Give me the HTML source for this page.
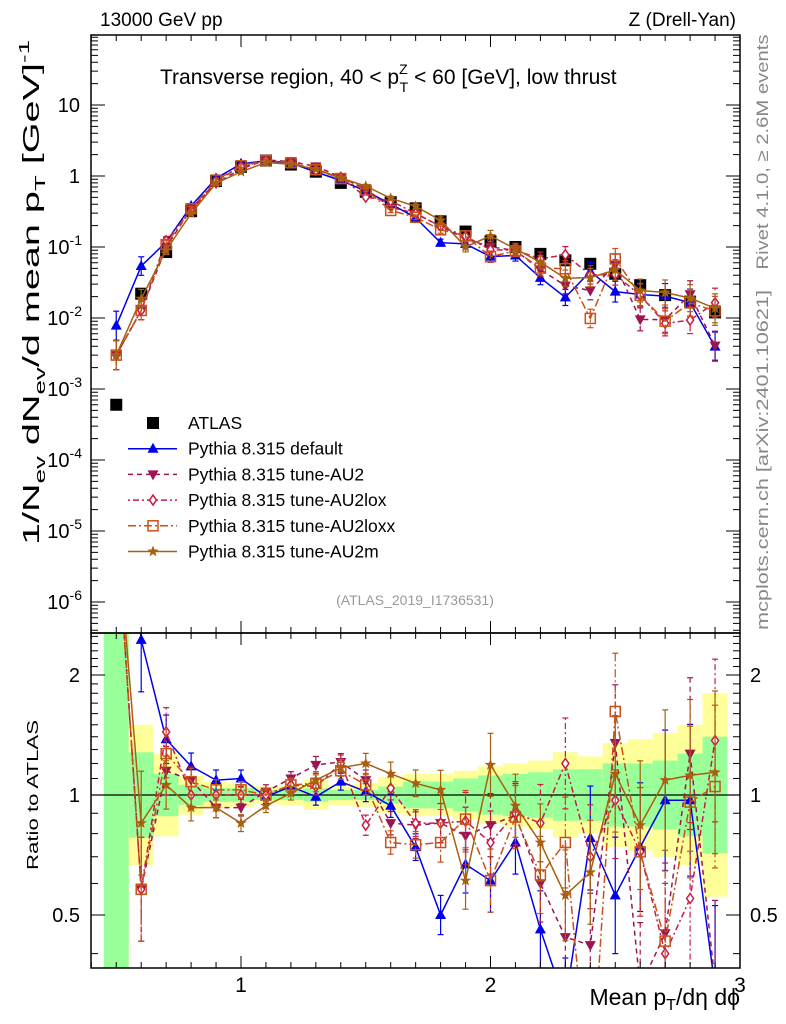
<!DOCTYPE html>
<html><head><meta charset="utf-8"><style>
html,body{margin:0;padding:0;background:#fff;width:786px;height:1024px;overflow:hidden}
svg{display:block;font-family:"Liberation Sans",sans-serif}
</style></head><body>
<svg id="c" width="786" height="1024" viewBox="0 0 786 1024" xmlns="http://www.w3.org/2000/svg">
<defs>
<clipPath id="cm"><rect x="91" y="35" width="649" height="598"/></clipPath>
<clipPath id="cr"><rect x="91" y="633" width="649" height="335"/></clipPath>
</defs>
<g id="bands" clip-path="url(#cr)"></g>
<g id="mainMarks" clip-path="url(#cm)"></g>
<g id="ratioMarks" clip-path="url(#cr)"></g>
<g id="axes"></g>
<text x="100" y="26" font-size="19">13000 GeV pp</text>
<text x="736" y="26" font-size="19" text-anchor="end">Z (Drell-Yan)</text>
<text x="160" y="84" font-size="21">Transverse region, 40 &lt; p<tspan font-size="14" dy="-10">Z</tspan><tspan font-size="14" dx="-8" dy="18">T</tspan><tspan dy="-8"> &lt; 60 [GeV], low thrust</tspan></text>
<text x="415" y="605" font-size="14" fill="#999" text-anchor="middle">(ATLAS_2019_I1736531)</text>
<text transform="translate(768,152) rotate(-90)" font-size="17" fill="#888" text-anchor="middle" textLength="235" lengthAdjust="spacingAndGlyphs">Rivet 4.1.0, ≥ 2.6M events</text>
<text transform="translate(768,460) rotate(-90)" font-size="17" fill="#888" text-anchor="middle" textLength="340" lengthAdjust="spacingAndGlyphs">mcplots.cern.ch [arXiv:2401.10621]</text>
<text transform="translate(39,545) rotate(-90)" font-size="23" textLength="505" lengthAdjust="spacingAndGlyphs">1/N<tspan font-size="15" dy="6">ev</tspan><tspan dy="-6"> dN</tspan><tspan font-size="15" dy="6">ev</tspan><tspan dy="-6">/d mean p</tspan><tspan font-size="15" dy="6">T</tspan><tspan dy="-6"> [GeV]</tspan><tspan font-size="15" dy="-10">-1</tspan></text>
<text transform="translate(38,870) rotate(-90)" font-size="16" textLength="150" lengthAdjust="spacingAndGlyphs">Ratio to ATLAS</text>
<text x="740" y="1005" font-size="23" text-anchor="end">Mean p<tspan font-size="16" dy="5">T</tspan><tspan dy="-5">/dη dϕ</tspan></text>
<g id="legend"></g>
</svg>
<script>
const xs=[0.5,0.6,0.7,0.8,0.9,1.0,1.1,1.2,1.3,1.4,1.5,1.6,1.7,1.8,1.9,2.0,2.1,2.2,2.3,2.4,2.5,2.6,2.7,2.8,2.9];
const atlas=[6e-4,0.022,0.085,0.32,0.85,1.35,1.65,1.45,1.15,0.8,0.6,0.43,0.35,0.23,0.165,0.12,0.1,0.08,0.065,0.058,0.042,0.029,0.021,0.017,0.012];
const rDefault=[13,2.45,1.38,1.18,1.09,1.10,0.99,1.05,0.99,1.08,1.02,0.94,0.74,0.50,0.67,0.61,0.76,0.46,0.30,0.78,0.56,0.74,0.97,0.97,0.33];
const rAU2=[5,0.58,1.15,1.09,0.93,0.93,1.02,1.10,1.19,1.21,1.09,0.85,0.84,0.85,0.79,0.84,0.89,0.60,0.44,0.42,1.35,0.33,0.45,1.27,0.34];
const rAU2lox=[5,0.58,1.44,1.0,1.0,1.0,1.0,1.06,1.05,1.2,0.84,1.04,0.85,0.85,0.86,0.76,0.90,0.85,1.2,0.70,0.97,0.72,0.40,0.55,1.37];
const rAU2loxx=[5,0.58,1.27,1.08,1.03,1.03,1.0,1.06,1.07,1.15,1.06,0.76,0.75,0.76,0.87,0.61,0.88,0.63,0.76,0.17,1.62,0.72,0.43,0.96,1.05];
const rAU2m=[5,0.85,1.06,0.93,0.93,0.85,0.94,1.01,1.09,1.17,1.20,1.13,1.07,1.03,0.61,1.19,0.94,0.76,0.56,0.64,1.13,0.84,1.09,1.12,1.14];
const mcErr=[0.6,0.35,0.15,0.08,0.06,0.05,0.04,0.04,0.05,0.05,0.06,0.07,0.08,0.12,0.18,0.2,0.2,0.25,0.3,0.35,0.4,0.45,0.5,0.55,0.6];
const bandTotal=[3,0.5,0.27,0.12,0.08,0.07,0.05,0.06,0.09,0.06,0.07,0.11,0.13,0.13,0.15,0.18,0.2,0.22,0.28,0.25,0.35,0.38,0.43,0.5,0.8];
const bandStat=[3,0.28,0.13,0.06,0.04,0.04,0.03,0.03,0.04,0.03,0.03,0.05,0.08,0.08,0.1,0.12,0.13,0.14,0.16,0.16,0.2,0.2,0.22,0.27,0.4];
const mainTicks=[10,1,0.1,0.01,1e-3,1e-4,1e-5,1e-6];
const mainTickLabels=["10","1","10^-1","10^-2","10^-3","10^-4","10^-5","10^-6"];
const ratioTicks=[2,1,0.5];
const xTicks=[1,2,3];

const NS="http://www.w3.org/2000/svg";
const L=91,R=740,T=35,MB=633,RB=968;
const X=v=>241+(v-1)*249.5;
const Y=v=>176-71*Math.log10(v);
const YR=v=>795-120*Math.log2(v);
function mk(tag,attrs,parent){const e=document.createElementNS(NS,tag);for(const k in attrs)e.setAttribute(k,attrs[k]);parent.appendChild(e);return e;}

const series=[
 {name:'default',r:rDefault,col:'#0000ee',dash:'',m:'tri'},
 {name:'au2',r:rAU2,col:'#9b1550',dash:'5,4',m:'tridown'},
 {name:'au2lox',r:rAU2lox,col:'#c81a46',dash:'2,3,6,3',m:'diamond'},
 {name:'au2loxx',r:rAU2loxx,col:'#c8501a',dash:'8,3,2,3',m:'square'},
 {name:'au2m',r:rAU2m,col:'#a8600f',dash:'',m:'star'}
];
function marker(g,type,x,y,col){
 let e;
 if(type==='tri')e=mk('polygon',{points:`${x},${y-6} ${x-5.5},${y+4} ${x+5.5},${y+4}`,fill:col},g);
 else if(type==='tridown')e=mk('polygon',{points:`${x},${y+6} ${x-5.5},${y-4} ${x+5.5},${y-4}`,fill:col},g);
 else if(type==='diamond')e=mk('polygon',{points:`${x},${y-5} ${x-3.5},${y} ${x},${y+5} ${x+3.5},${y}`,fill:'#fff',stroke:col,'stroke-width':1.5},g);
 else if(type==='square')e=mk('rect',{x:x-5,y:y-5,width:10,height:10,fill:'none',stroke:col,'stroke-width':1.5},g);
 else if(type==='star'){let p=[];for(let i=0;i<10;i++){const a=-Math.PI/2+i*Math.PI/5,rr=i%2?2.5:6;p.push((x+rr*Math.cos(a)).toFixed(1)+','+(y+rr*Math.sin(a)).toFixed(1));}e=mk('polygon',{points:p.join(' '),fill:col},g);}
 else if(type==='box')e=mk('rect',{x:x-6,y:y-6,width:12,height:12,fill:'#000'},g);
 return e;
}

const bg=document.getElementById('bands');
xs.forEach((x,i)=>{
 const x0=X(x-0.05),w=X(x+0.05)-x0;
 const t=bandTotal[i],s=bandStat[i];
 const ry=mk('rect',{x:x0,y:YR(1+t),width:w,height:YR(1/(1+t))-YR(1+t),fill:'#ffff99'},bg);
 
 
 const rg=mk('rect',{x:x0,y:YR(1+s),width:w,height:YR(1/(1+s))-YR(1+s),fill:'#99ff99'},bg);
 
 
});
const ax=document.getElementById('axes');
mk('line',{x1:L,x2:R,y1:YR(1),y2:YR(1),stroke:'#000','stroke-width':1.3},document.getElementById('ratioMarks'));

const mg=document.getElementById('mainMarks'),rgp=document.getElementById('ratioMarks');
series.forEach(s=>{
 const gm=mk('g',{},mg);
 
 
 const gr=mk('g',{},rgp);
 
 
 const vals=xs.map((x,i)=>atlas[i]*s.r[i]);
 const pm=xs.map((x,i)=>X(x).toFixed(1)+','+Y(vals[i]).toFixed(1)).join(' ');
 const pr=xs.map((x,i)=>X(x).toFixed(1)+','+YR(s.r[i]).toFixed(1)).join(' ');
 mk('polyline',{points:pm,fill:'none',stroke:s.col,'stroke-width':1.5,'stroke-dasharray':s.dash},gm);
 mk('polyline',{points:pr,fill:'none',stroke:s.col,'stroke-width':1.5,'stroke-dasharray':s.dash},gr);
 xs.forEach((x,i)=>{
  const e=mcErr[i];
  const px=X(x);
  mk('line',{x1:px,x2:px,y1:Y(vals[i]*(1+e)),y2:Y(vals[i]/(1+e)),stroke:s.col,'stroke-width':1.2,'stroke-dasharray':s.dash},gm);
  mk('line',{x1:px,x2:px,y1:YR(s.r[i]*(1+e)),y2:YR(s.r[i]/(1+e)),stroke:s.col,'stroke-width':1.2,'stroke-dasharray':s.dash},gr);
  [[Y(vals[i]*(1+e)),gm],[Y(vals[i]/(1+e)),gm],[YR(s.r[i]*(1+e)),gr],[YR(s.r[i]/(1+e)),gr]].forEach(([yy,g])=>mk('line',{x1:px-3,x2:px+3,y1:yy,y2:yy,stroke:s.col,'stroke-width':1.2},g));
  const m1=marker(gm,s.m,px,Y(vals[i]),s.col);
  
  
  const m2=marker(gr,s.m,px,YR(s.r[i]),s.col);
  
  
 });
});
const ga=document.createElementNS(NS,'g');mg.insertBefore(ga,mg.firstChild);


xs.forEach((x,i)=>{const m=marker(ga,'box',X(x),Y(atlas[i]),'#000');
 
 });

mk('rect',{x:L,y:T,width:R-L,height:MB-T,fill:'none',stroke:'#000','stroke-width':1.5},ax);
mk('rect',{x:L,y:MB,width:R-L,height:RB-MB,fill:'none',stroke:'#000','stroke-width':1.5},ax);
for(let k=4;k<=30;k++){const v=k/10,px=X(v),maj=(k%10===0);const len=maj?12:6;
 [[T,1],[MB,-1],[MB,1],[RB,-1]].forEach(([y0,d])=>mk('line',{x1:px,x2:px,y1:y0,y2:y0+d*len,stroke:'#000','stroke-width':1},ax));}
xTicks.forEach(v=>{const t=mk('text',{x:X(v),y:992,'font-size':21,'text-anchor':'middle'},ax);t.textContent=v;
 
 });
for(let d=-7;d<=1;d++){for(let m=1;m<10;m++){const v=m*Math.pow(10,d),py=Y(v);if(py<T||py>MB)continue;const len=m===1?14:7;
 mk('line',{x1:L,x2:L+len,y1:py,y2:py,stroke:'#000','stroke-width':1},ax);mk('line',{x1:R,x2:R-len,y1:py,y2:py,stroke:'#000','stroke-width':1},ax);}}
mainTicks.forEach((v,i)=>{const lab=mainTickLabels[i];const t=mk('text',{x:80,y:Y(v)+7,'font-size':20,'text-anchor':'end'},ax);
 if(lab.includes('^')){const [b,e]=lab.split('^');t.textContent=b;const ts=mk('tspan',{'font-size':14,dy:-9},t);ts.textContent=e;t.setAttribute('x',82);}else t.textContent=lab;
 
 });
for(let v=0.4;v<=2.5001;v+=0.1){const py=YR(v);if(py<MB||py>RB)continue;const maj=[0.5,1,2].some(q=>Math.abs(q-v)<1e-6);const len=maj?14:7;
 mk('line',{x1:L,x2:L+len,y1:py,y2:py,stroke:'#000','stroke-width':1},ax);mk('line',{x1:R,x2:R-len,y1:py,y2:py,stroke:'#000','stroke-width':1},ax);}
ratioTicks.forEach(v=>{[[80,'end'],[750,'start']].forEach(([x,a])=>{const t=mk('text',{x:x,y:YR(v)+7,'font-size':20,'text-anchor':a},ax);t.textContent=v;
 
 });});

const lg=document.getElementById('legend');
const labels=['ATLAS','Pythia 8.315 default','Pythia 8.315 tune-AU2','Pythia 8.315 tune-AU2lox','Pythia 8.315 tune-AU2loxx','Pythia 8.315 tune-AU2m'];
labels.forEach((lab,i)=>{const y=423+i*25.7;const g=mk('g',{},lg);
 
 
 if(i===0)marker(g,'box',153,y,'#000');else{const s=series[i-1];mk('line',{x1:128,x2:177,y1:y,y2:y,stroke:s.col,'stroke-width':1.5,'stroke-dasharray':s.dash},g);marker(g,s.m,153,y,s.col);}
 const t=mk('text',{x:188,y:y+6,'font-size':17.5},g);t.textContent=lab;});
</script>
</body></html>
